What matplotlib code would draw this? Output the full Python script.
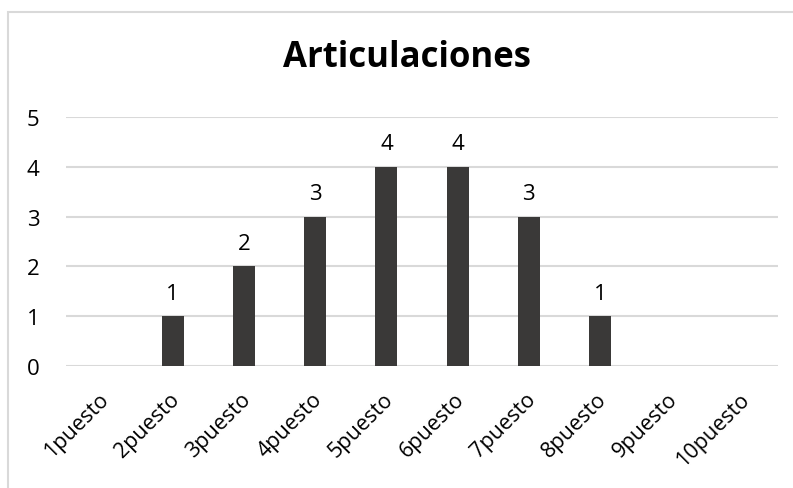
import matplotlib
matplotlib.use("Agg")
import matplotlib.pyplot as plt
from matplotlib.patches import Rectangle
from matplotlib.transforms import ScaledTranslation

categories = ["1puesto", "2puesto", "3puesto", "4puesto", "5puesto",
              "6puesto", "7puesto", "8puesto", "9puesto", "10puesto"]
values = [0, 1, 2, 3, 4, 4, 3, 1, 0, 0]
y_ticks = [0, 1, 2, 3, 4, 5]

BAR = "#3a3938"
GRID = "#d9d9d9"
TEXT = "#000000"

plt.rcParams["font.family"] = ["Open Sans", "DejaVu Sans"]

fig = plt.figure(figsize=(7.93, 4.89), dpi=100)
fig.patch.set_facecolor("white")

# chart frame
fig.patches.append(Rectangle((8 / 793, -0.2), 1.2, 1.2 - 13 / 489,
                             transform=fig.transFigure, fill=False,
                             edgecolor=GRID, linewidth=1.5))

ax = fig.add_axes([66 / 793, 1 - 367 / 489, (778 - 66) / 793, (367 - 118) / 489])
x = list(range(len(categories)))
nonzero = [(i, v) for i, v in zip(x, values) if v > 0]
ax.bar([i for i, _ in nonzero], [v for _, v in nonzero], width=0.31,
       color=BAR, zorder=3)
for i, v in nonzero:
    ax.annotate(str(v), (i, v), xytext=(0, 9), textcoords="offset points",
                ha="center", va="bottom", fontsize=16, color=TEXT)

ax.set_xlim(-0.5, len(categories) - 0.5)
ax.set_ylim(0, 5)
ax.set_yticks(y_ticks)
ax.set_yticklabels([str(t) for t in y_ticks], fontsize=16, color=TEXT)
ax.yaxis.grid(True, color=GRID, linewidth=1.5, zorder=0)
ax.set_axisbelow(True)
for s in ax.spines.values():
    s.set_visible(False)
ax.tick_params(axis="both", length=0)
ax.tick_params(axis="y", pad=19)
ax.set_xticks(x)
ax.set_xticklabels(categories, rotation=45, ha="right", rotation_mode="anchor",
                   fontsize=15.5, color=TEXT)
ax.tick_params(axis="x", pad=16)
for lbl in ax.get_xticklabels():
    lbl.set_transform(lbl.get_transform() + ScaledTranslation(-4 / 100, 0, fig.dpi_scale_trans))

fig.text(407 / 793, 1 - 58 / 489, "Articulaciones", ha="center", va="center",
         fontsize=25, fontweight="bold", color=TEXT)

fig.savefig("out.png", dpi=100)
